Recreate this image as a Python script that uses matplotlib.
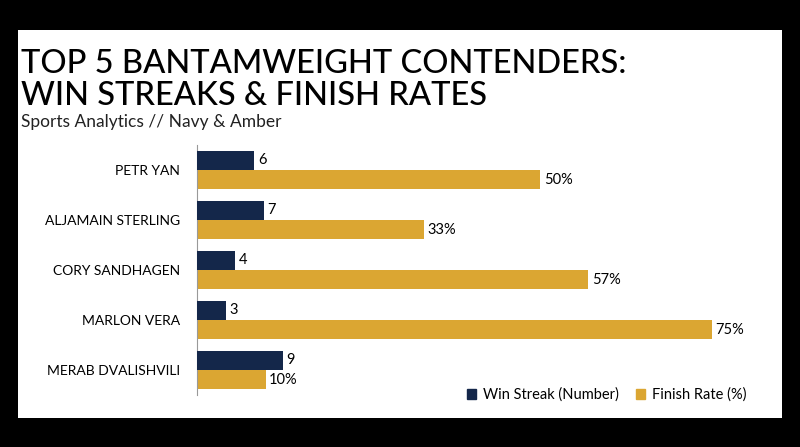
import matplotlib
matplotlib.use("Agg")
import matplotlib.pyplot as plt
from matplotlib.patches import Rectangle, Patch
import numpy as np

fighters = ["PETR YAN", "ALJAMAIN STERLING", "CORY SANDHAGEN", "MARLON VERA", "MERAB DVALISHVILI"]
win_streak = [6, 7, 4, 3, 9]
finish_rate = [50, 33, 57, 75, 10]

NAVY = "#14274a"
AMBER = "#dba632"
plt.rcParams["font.family"] = ["Lato", "DejaVu Sans"]

fig = plt.figure(figsize=(8, 4.47), dpi=100)
fig.patch.set_facecolor("black")
fig.add_artist(Rectangle((18/800, 1-418/447), 764/800, 388/447, transform=fig.transFigure,
                         facecolor="white", edgecolor="none", zorder=0))

fig.text(0.026, 1-64/447, "TOP 5 BANTAMWEIGHT CONTENDERS:", fontsize=23.5, va="center", weight="medium")
fig.text(0.026, 1-96/447, "WIN STREAKS & FINISH RATES", fontsize=23.5, va="center", weight="medium")
fig.text(0.026, 1-122/447, "Sports Analytics // Navy & Amber", fontsize=12.5, va="center", color="#222222")

ax = fig.add_axes([197/800, 1-395/447, 563/800, 250/447])
ax2 = ax.twiny()
y = np.arange(len(fighters))
h = 0.38
ax2.barh(y - h/2, win_streak, height=h, color=NAVY)
ax.barh(y + h/2, finish_rate, height=h, color=AMBER)
for yi, v in zip(y, win_streak):
    ax2.text(v + 0.4, yi - h/2, str(v), va="center", fontsize=10.5)
for yi, v in zip(y, finish_rate):
    ax.text(v + 0.5, yi + h/2, f"{v}%", va="center", fontsize=10.5)
ax.set_xlim(0, 82)
ax2.set_xlim(0, 59)
for a in (ax, ax2):
    a.set_ylim(len(fighters) - 0.5, -0.5)
    a.set_facecolor("none")
    for s in ["top", "right", "bottom"]:
        a.spines[s].set_visible(False)
    a.set_xticks([])
ax2.spines["left"].set_visible(False)
ax.spines["left"].set_color("#999999")
ax.set_yticks(y)
ax.set_yticklabels(fighters, fontsize=10)
ax.tick_params(axis="y", length=0, pad=12)

fig.legend(handles=[Patch(color=NAVY, label="Win Streak (Number)"),
                    Patch(color=AMBER, label="Finish Rate (%)")],
           loc="center right", bbox_to_anchor=(760/800, 1-395/447), ncol=2, frameon=False,
           fontsize=10.5, handlelength=0.6, handleheight=0.6, columnspacing=1.2, handletextpad=0.5)

fig.savefig("out.png", dpi=100, facecolor=fig.get_facecolor())
